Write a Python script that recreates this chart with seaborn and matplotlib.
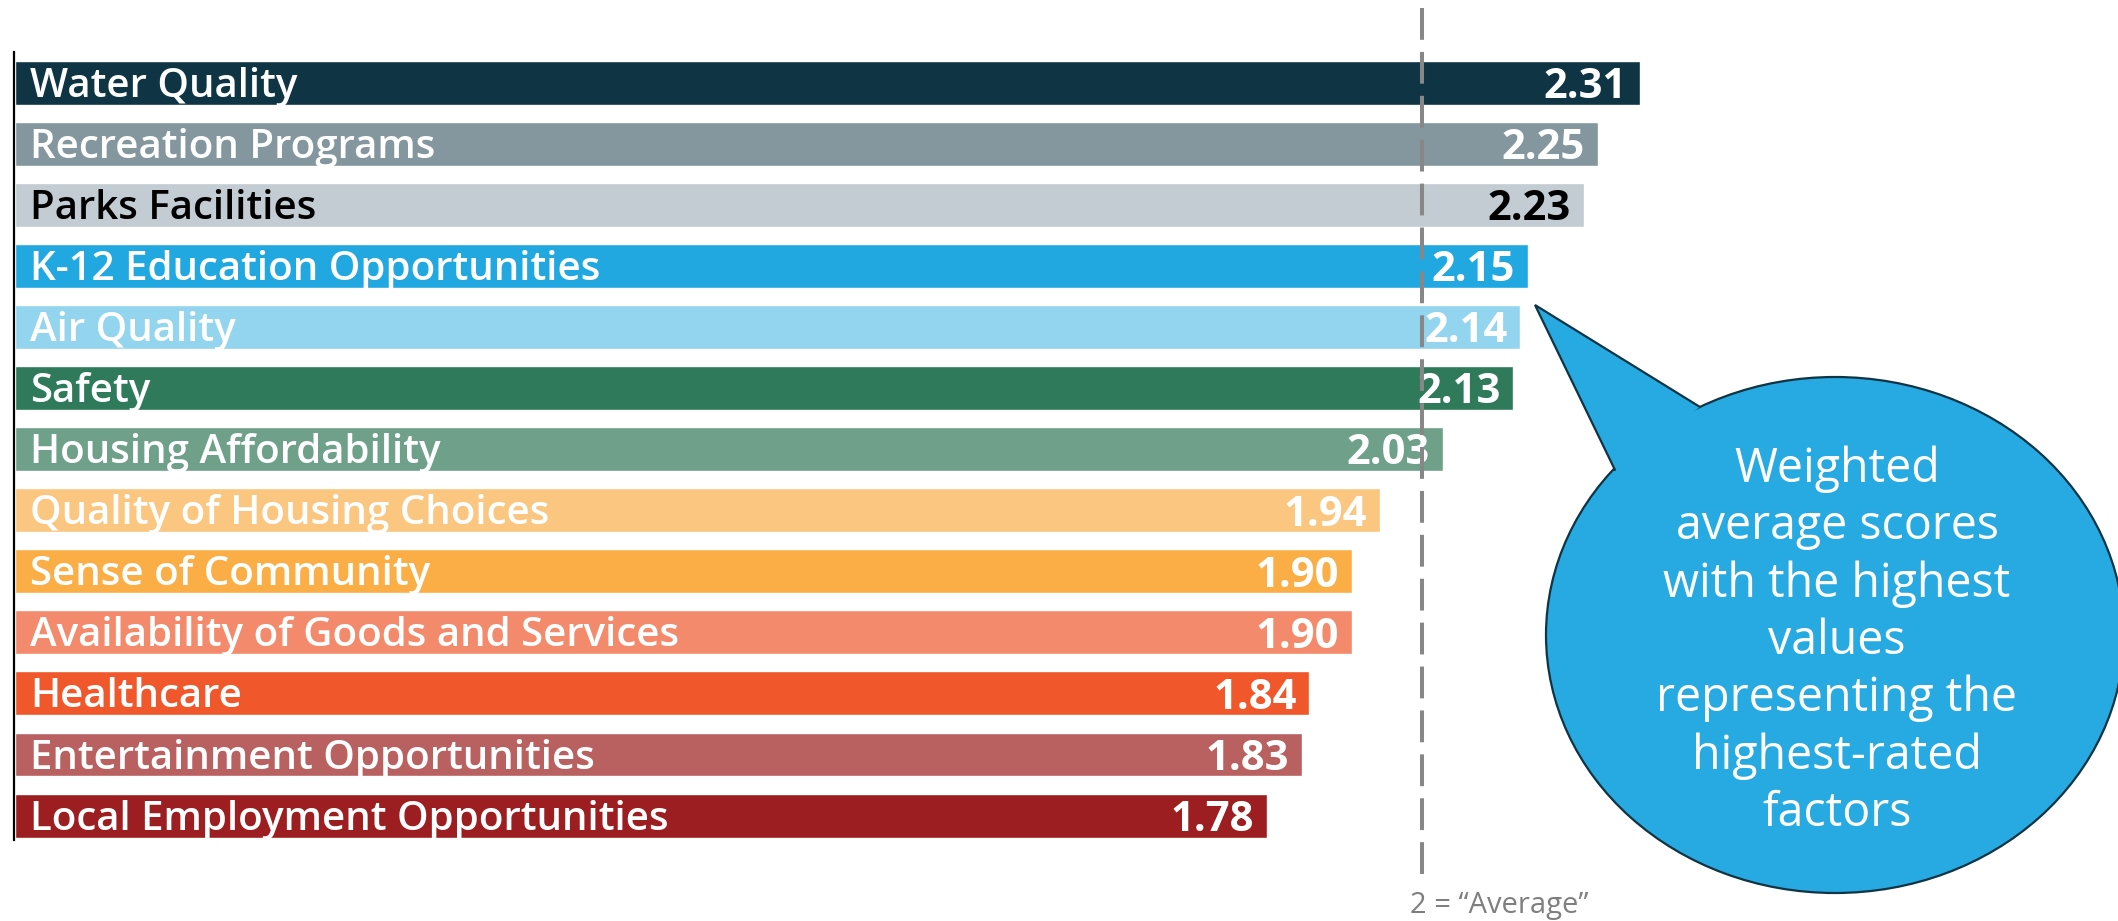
import matplotlib
matplotlib.use("Agg")
import matplotlib.pyplot as plt
from matplotlib.patches import Ellipse, Polygon
import seaborn as sns

# data
factors = ["Water Quality", "Recreation Programs", "Parks Facilities",
           "K-12 Education Opportunities", "Air Quality", "Safety",
           "Housing Affordability", "Quality of Housing Choices",
           "Sense of Community", "Availability of Goods and Services",
           "Healthcare", "Entertainment Opportunities",
           "Local Employment Opportunities"]
scores = [2.31, 2.25, 2.23, 2.15, 2.14, 2.13, 2.03, 1.94, 1.90, 1.90, 1.84, 1.83, 1.78]
bar_colors = ["#0f3443", "#85979e", "#c3ccd2", "#22a8e0", "#93d4ef", "#2e7a5a",
              "#6fa08a", "#fbc67f", "#fbae45", "#f48a6c", "#f0582b", "#b86160",
              "#9d1e20"]
text_colors = ["white", "white", "black", "white", "white", "white", "white",
               "white", "white", "white", "white", "white", "white"]
average = 2.0
note = "Weighted\naverage scores\nwith the highest\nvalues\nrepresenting the\nhighest-rated\nfactors"

sns.set_style("white")
plt.rcParams['font.family'] = ['Open Sans', 'DejaVu Sans']

W, H = 2118, 921
fig = plt.figure(figsize=(W / 100, H / 100), dpi=100)
# axes placed in pixel terms: x=0 at px 15, 703.5 px per unit
ax = fig.add_axes([15 / W, (H - 840) / H, (W - 15) / W, (840 - 51.7) / H])

sns.barplot(x=scores, y=factors, hue=factors, palette=bar_colors,
            legend=False, width=0.72, saturation=1, ax=ax, orient="h")

ax.set_xlim(0, (W - 15) / 703.5)
ax.set_ylim(12.40, -0.51)
ax.set_xticks([])
ax.set_yticks([])
ax.set_xlabel("")
ax.set_ylabel("")
for s in ["top", "right", "bottom"]:
    ax.spines[s].set_visible(False)
ax.spines["left"].set_color("black")
ax.spines["left"].set_linewidth(1.6)
ax.spines["left"].set_position(("data", -0.0015))

for i, (name, v, tc) in enumerate(zip(factors, scores, text_colors)):
    ax.text(0.0213, i + 0.23, name, color=tc, fontsize=29,
            fontweight="semibold", ha="left", va="baseline", zorder=4)
    ax.text(v - 0.0185, i + 0.25, f"{v:.2f}", color=tc, fontsize=30,
            fontweight="bold", ha="right", va="baseline", zorder=4)

# dashed "average" line, drawn from top down
ax.axvline(average, ymin=1.0554, ymax=-0.0444, clip_on=False, color="#878787",
           lw=2.9, linestyle=(0, (7.9, 3.0)), zorder=5)

# overlay in pixel coordinates for the callout and note
ov = fig.add_axes([0, 0, 1, 1], zorder=10)
ov.set_xlim(0, W)
ov.set_ylim(H, 0)
ov.axis("off")

bubble = "#27aae1"
edge = "#0f3443"
ov.add_patch(Ellipse((1835, 635), 578, 516, facecolor=bubble, edgecolor=edge,
                     lw=1.6, zorder=1))
tip, j1, j2 = (1535, 305), (1700, 407), (1615, 470)
ov.add_patch(Polygon([tip, j1, j2], closed=True, facecolor=bubble,
                     edgecolor="none", zorder=2))
ov.plot([j1[0], tip[0], j2[0]], [j1[1], tip[1], j2[1]], color=edge, lw=1.6,
        zorder=3, solid_joinstyle="miter")
ov.text(1837, 826, note, color="white", fontsize=33.5, ha="center",
        va="baseline", multialignment="center", linespacing=1.27, zorder=4)

ov.text(1410, 913, "2 = \u201cAverage\u201d", color="#7f7f7f", fontsize=21,
        ha="left", va="baseline")

fig.savefig("out.png", dpi=100)
